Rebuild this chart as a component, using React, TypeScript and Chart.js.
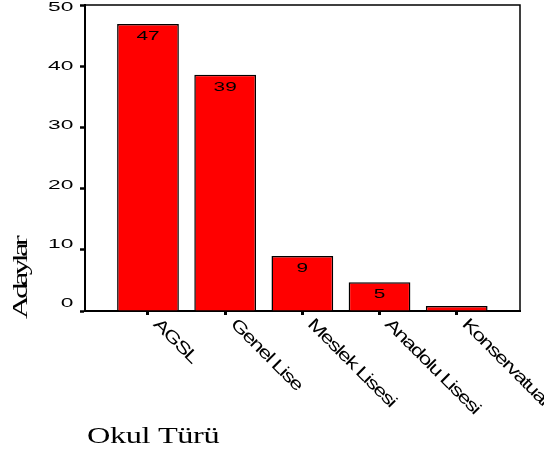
import React, { useEffect, useRef } from 'react';
import { Chart, registerables } from 'chart.js';

Chart.register(...registerables);

const categories = ['AGSL', 'Genel Lise', 'Meslek Lisesi', 'Anadolu Lisesi', 'Konservatuar'];
const percentages = [46.9, 38.6, 9.0, 4.7, 0.8];
const barLabels = ['47', '39', '9', '5', ''];
const xTitle = 'Okul Türü';
const yTitle = 'Adaylar';

function drawStretched(
  ctx: CanvasRenderingContext2D,
  text: string,
  x: number,
  y: number,
  sx: number,
  align: CanvasTextAlign,
  baseline: CanvasTextBaseline,
  font: string,
  rotation = 0,
  spacing = 0
) {
  ctx.save();
  ctx.translate(x, y);
  if (rotation) ctx.rotate(rotation);
  ctx.scale(sx, 1);
  ctx.font = font;
  ctx.textAlign = align;
  ctx.textBaseline = baseline;
  (ctx as any).letterSpacing = spacing + 'px';
  ctx.fillStyle = '#000';
  ctx.fillText(text, 0, 0);
  ctx.restore();
}

const spssText = {
  id: 'spssText',
  afterDraw(chart: any) {
    const { ctx, chartArea: a, scales } = chart;
    const x = scales.x;
    const y = scales.y;
    ctx.save();
    ctx.strokeStyle = '#000';
    ctx.lineWidth = 1.5;
    ctx.beginPath();
    ctx.moveTo(a.left, a.top);
    ctx.lineTo(a.right, a.top);
    ctx.lineTo(a.right, a.bottom);
    ctx.stroke();
    ctx.restore();

    y.ticks.forEach((t: any) => {
      const py = y.getPixelForValue(t.value);
      const ly = a.top + 2.6 + (py - a.top) * 0.966;
      drawStretched(ctx, String(t.value), a.left - 11.7, ly, 1.75, 'right', 'middle', '13px "Liberation Sans"');
    });
    categories.forEach((c, i) =>
      drawStretched(ctx, c, x.getPixelForValue(i) + 4.5, a.bottom + 14, 1.35, 'left', 'alphabetic', '17px "Liberation Sans"', Math.PI / 4, -1.2)
    );
    const meta = chart.getDatasetMeta(0);
    meta.data.forEach((bar: any, i: number) => {
      if (barLabels[i]) drawStretched(ctx, barLabels[i], bar.x, bar.y + 12.5, 1.6, 'center', 'middle', '13px "Liberation Sans"');
    });
    drawStretched(ctx, yTitle, a.left - 58, a.bottom + 8, 1.5, 'left', 'alphabetic', '22px "Liberation Serif"', -Math.PI / 2, -2.5);
    drawStretched(ctx, xTitle, a.left + 2, a.bottom + 132, 1.35, 'left', 'alphabetic', '24px "Liberation Serif"', 0, -0.3);
  },
};

export default function App() {
  const ref = useRef<HTMLCanvasElement | null>(null);
  useEffect(() => {
    document.body.style.margin = '0';
    if (!ref.current) return;
    const chart = new Chart(ref.current, {
      type: 'bar',
      data: {
        datasets: [
          {
            data: percentages.map((v, i) => ({ x: i, y: v })),
            backgroundColor: '#ff0000',
            borderColor: '#000',
            borderWidth: 1.5,
            barPercentage: 0.8,
            categoryPercentage: 1,
          },
        ],
      },
      options: {
        animation: false,
        responsive: true,
        maintainAspectRatio: false,
        layout: { padding: { left: 80, right: 24, top: 5, bottom: 139 } },
        plugins: { legend: { display: false }, tooltip: { enabled: false } },
        scales: {
          x: {
            type: 'linear',
            min: -0.816,
            max: 4.82,
            offset: false,
            ticks: { display: false, stepSize: 1, includeBounds: false },
            grid: { drawOnChartArea: false, offset: false, drawTicks: true, tickLength: 4, tickWidth: 3, tickColor: '#000' },
            border: { color: '#000', width: 2 },
          },
          y: {
            min: 0,
            max: 50,
            ticks: { display: false, stepSize: 10 },
            grid: { drawOnChartArea: false, drawTicks: true, tickLength: 5, tickWidth: 2.5, tickColor: '#000' },
            border: { color: '#000', width: 2 },
          },
        },
      },
      plugins: [spssText],
    } as any);
    return () => chart.destroy();
  }, []);
  return (
    <div style={{ position: 'relative', width: 544, height: 454 }}>
      <canvas ref={ref} />
    </div>
  );
}
